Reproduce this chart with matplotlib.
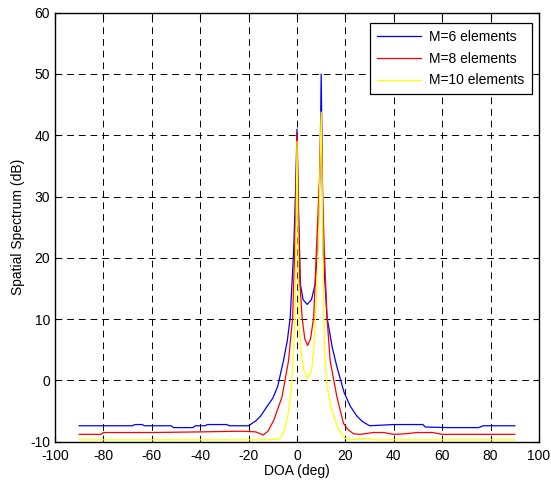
import matplotlib
matplotlib.use("Agg")
import matplotlib.pyplot as plt

plt.rcParams['font.family'] = ['Liberation Sans', 'DejaVu Sans']
plt.rcParams['axes.unicode_minus'] = False

# M=6 elements (blue)
x6 = [-90, -68, -67, -64, -63, -52, -51, -43, -42, -38, -37, -29, -28, -20,
      -17, -15, -13, -10, -8, -5.6, -4, -2.8, -1.4, -0.5, 0,
      0.5, 1.4, 2.5, 4.2, 6, 7.5, 8.5, 9.5, 10,
      10.5, 10.8, 12.4, 14.5, 16.5, 19.5, 22, 24.7, 27, 30, 40, 41, 52, 53, 62, 63, 75, 77, 90]
y6 = [-7.4, -7.4, -7.2, -7.2, -7.4, -7.4, -7.7, -7.7, -7.4, -7.4, -7.2, -7.2, -7.4, -7.4,
      -6.6, -5.8, -4.6, -2.9, -1.0, 3.2, 6.5, 10.3, 21, 32, 41,
      30, 15.7, 13.2, 12.4, 13.2, 15.7, 21, 34, 50,
      32, 21, 10.3, 5.5, 2.2, -2.0, -4.2, -5.8, -6.7, -7.4, -7.2, -7.2, -7.2, -7.6, -7.7, -7.7, -7.7, -7.4, -7.4]

# M=8 elements (red)
x8 = [-90, -81, -80, -60, -40, -25, -22, -17, -14, -12, -9.6, -6.2, -3.5, -1.8, -1, -0.4, 0,
      0.5, 1.2, 2.1, 3.2, 4.4, 5.6, 6.9, 8, 9.3, 10,
      10.6, 11.3, 12.4, 13.7, 16.5, 19.2, 21, 23.3, 26, 28, 31.6, 35.7, 40, 45, 49.5, 56, 60, 90]
y8 = [-8.8, -8.8, -8.5, -8.5, -8.4, -8.3, -8.3, -8.4, -8.9, -8.3, -6.5, -2.7, 3.2, 10.3, 21, 30, 40.5,
      28, 16, 10.3, 6.8, 5.7, 6.8, 10.3, 21, 33, 43.5,
      30, 21, 10.3, 3.2, -2.7, -7.0, -8.0, -8.7, -8.8, -8.7, -8.5, -8.5, -8.8, -8.7, -8.5, -8.5, -8.8, -8.8]

# M=10 elements (yellow)
x10 = [-90, -40, -20, -12.4, -9, -7, -5.5, -3.9, -2.4, -1.4, -0.7, 0,
       0.4, 0.7, 1.6, 2.8, 4.4, 6, 6.9, 8, 9, 10,
       10.6, 11, 11.3, 12.4, 14.4, 17.2, 20, 23, 26, 30, 32, 90]
y10 = [-9.7, -9.7, -9.7, -9.7, -9.6, -9.5, -8.4, -6.0, -1.6, 4.9, 13, 39,
       24, 10.3, 4.9, 1.6, 0.3, 1.6, 4.9, 13, 25, 43.8,
       25, 13, 4.9, -1.0, -4.9, -8.1, -9.5, -9.7, -9.5, -9.5, -9.7, -9.7]

fig = plt.figure(figsize=(5.51, 4.88), dpi=100)
ax = fig.add_axes([55 / 551, 1 - 441.7 / 488, 484 / 551, 429 / 488])

lw = 0.9
ax.plot(x6, y6, color='blue', lw=lw, label='M=6 elements')
ax.plot(x8, y8, color='red', lw=lw, label='M=8 elements')
ax.plot(x10, y10, color='yellow', lw=lw, label='M=10 elements')

ax.set_xlim(-100, 100)
ax.set_ylim(-10, 60)
ax.set_xticks(range(-100, 101, 20))
ax.set_yticks(range(-10, 61, 10))
ax.grid(True, color='black', linestyle=(0, (7, 5)), linewidth=0.7)
ax.tick_params(direction='in', top=True, right=True, labelsize=10, length=4)
ax.tick_params(axis='x', pad=5)
for s in ax.spines.values():
    s.set_linewidth(1.0)

ax.set_xlabel('DOA (deg)', fontsize=10, labelpad=1)
ax.set_ylabel('Spatial Spectrum (dB)', fontsize=10, labelpad=4)

leg = ax.legend(loc='upper right', bbox_to_anchor=(1 - 7.5 / 484, 1 - 10.5 / 429),
                fontsize=10, handlelength=3.2, labelspacing=0.55, borderaxespad=0,
                fancybox=False, framealpha=1, edgecolor='black', handletextpad=0.6,
                borderpad=0.5)
leg.get_frame().set_linewidth(0.9)

fig.savefig('out.png', dpi=100)
